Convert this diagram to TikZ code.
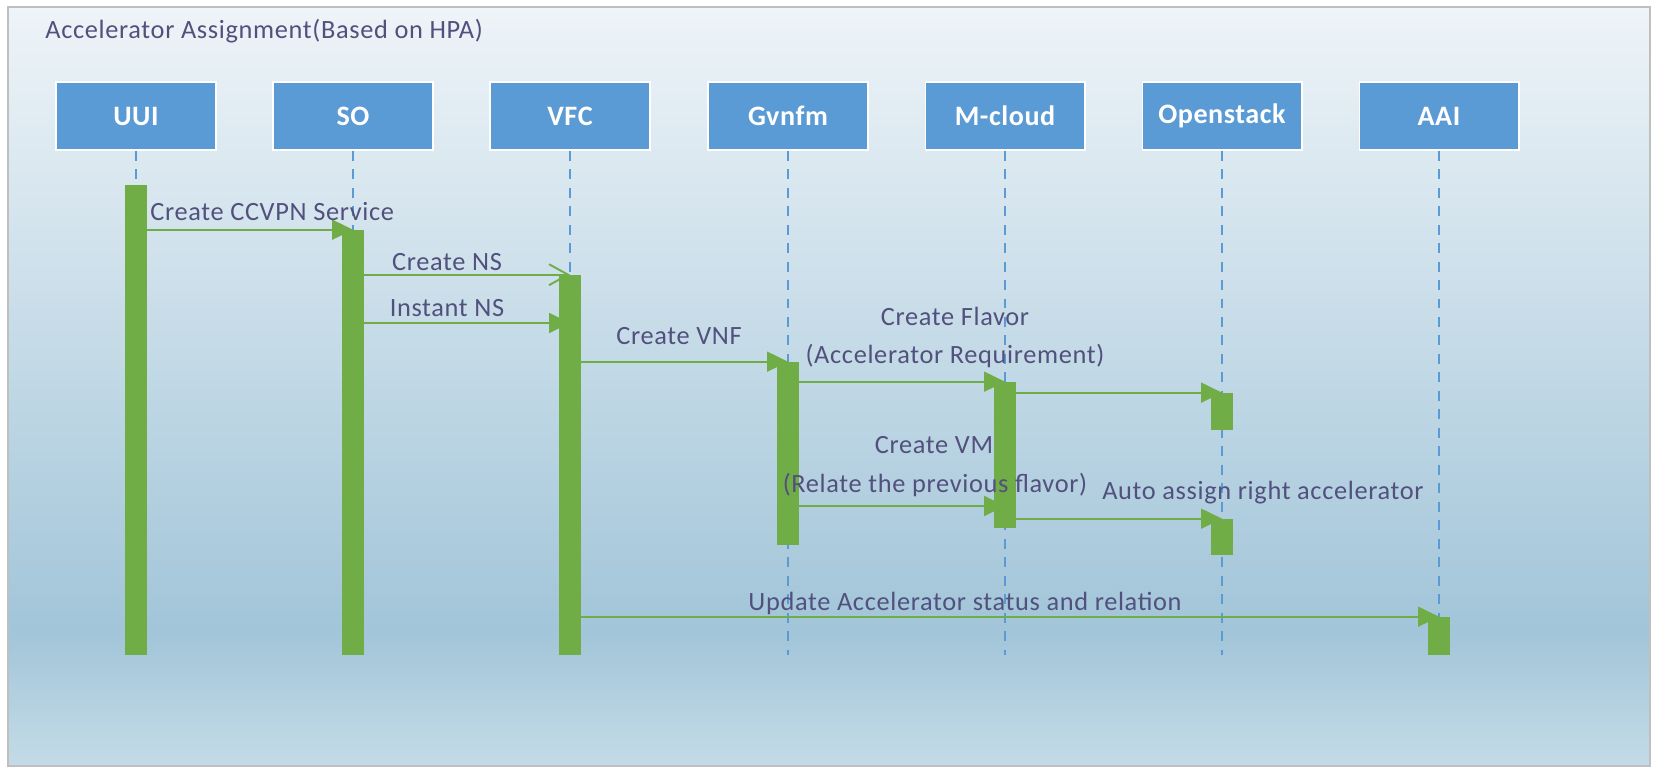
\documentclass[tikz,border=0pt]{standalone}
\usepackage{fontspec}
\setmainfont{Carlito}[LetterSpace=2.5]
\newfontfamily\headfont{Carlito}[LetterSpace=2]
\usepackage{tikz}
\usetikzlibrary{arrows.meta,calc}
\definecolor{bg_top}{RGB}{238, 244, 248}
\definecolor{bg_mid}{RGB}{162, 197, 217}
\definecolor{bg_bot}{RGB}{196, 219, 231}
\definecolor{box_blue}{RGB}{91, 155, 213}
\definecolor{act_green}{RGB}{112, 173, 71}
\definecolor{txt_dark}{RGB}{82, 80, 125}
\tikzstyle{head}=[rectangle,fill=box_blue,draw=white,line width=0.6pt,
  minimum width=3.2cm,minimum height=1.36cm,text=white,
  font=\headfont\fontsize{16}{18}\selectfont\bfseries]
\tikzstyle{life}=[draw=box_blue,line width=1pt,dash pattern=on 0.2cm off 0.17cm]
\tikzstyle{act}=[rectangle,fill=act_green,draw=none,inner sep=0pt,minimum width=0.43cm]
\tikzstyle{msg}=[draw=act_green,line width=1.1pt,-{Triangle[length=0.42cm,width=0.4cm]}]
\tikzstyle{msgopen}=[draw=act_green,line width=1.1pt,-{Straight Barb[length=0.38cm,width=0.42cm]}]
\tikzstyle{lbl}=[text=txt_dark,inner sep=0pt,anchor=base,font=\fontsize{15}{17}\selectfont]

\begin{document}
\begin{tikzpicture}[x=0.02cm,y=-0.02cm]
        \useasboundingbox (0,0) rectangle (1656,769);
        \fill [white] (0,0) rectangle (1656,769);
        \shade [top color=bg_top,bottom color=bg_mid] (8,7) rectangle (1650,630);
        \shade [top color=bg_mid,bottom color=bg_bot] (8,630) rectangle (1650,766);
        \draw [gray!50,line width=0.8pt] (8,7) rectangle (1650,766);
        \node [style=lbl,anchor=base west] (title) at (45,38) {Accelerator Assignment(Based on HPA)};
        % participants
        \node [style=head] (uui) at (136,116) {UUI};
        \node [style=head] (so) at (353,116) {SO};
        \node [style=head] (vfc) at (570,116) {VFC};
        \node [style=head] (gv) at (788,116) {Gvnfm};
        \node [style=head] (mc) at (1005,116) {M-cloud};
        \node [style=head] (os) at (1222,116) {Openstack};
        \node [style=head] (aai) at (1439,116) {AAI};
        \coordinate (end) at (0,655);
        \draw [style=life] (uui) -- (uui |- end);
        \draw [style=life] (so) -- (so |- end);
        \draw [style=life] (vfc) -- (vfc |- end);
        \draw [style=life] (gv) -- (gv |- end);
        \draw [style=life] (mc) -- (mc |- end);
        \draw [style=life] (os) -- (os |- end);
        \draw [style=life] (aai) -- (aai |- end);
        % activations
        \node [style=act,minimum height=9.4cm] (uui_a) at (136,420) {};
        \node [style=act,minimum height=8.5cm] (so_a) at (353,442.5) {};
        \node [style=act,minimum height=7.6cm] (vfc_a) at (570,465) {};
        \node [style=act,minimum height=3.66cm] (gv_a) at (788,453.5) {};
        \node [style=act,minimum height=2.92cm] (mc_a) at (1005,455) {};
        \node [style=act,minimum height=0.74cm] (os_a) at (1222,411.5) {};
        \node [style=act,minimum height=0.72cm] (os_b) at (1222,537) {};
        \node [style=act,minimum height=0.76cm] (aai_a) at (1439,636) {};
        % messages
        \coordinate (inst) at (0,323);
        \coordinate (vm) at (0,506);
        \draw [style=msg] (uui_a |- so_a.north) -- (so_a.north);
        \draw [style=msgopen] (so_a |- vfc_a.north) -- (vfc_a.north);
        \draw [style=msg] (so_a |- inst) -- (vfc_a |- inst);
        \draw [style=msg] (vfc_a |- gv_a.north) -- (gv_a.north);
        \draw [style=msg] (gv_a |- mc_a.north) -- (mc_a.north);
        \draw [style=msg] (mc_a |- os_a.north) -- (os_a.north);
        \draw [style=msg] (gv_a |- vm) -- (mc_a |- vm);
        \draw [style=msg] (mc_a |- os_b.north) -- (os_b.north);
        \draw [style=msg] (vfc_a |- aai_a.north) -- (aai_a.north);
        % labels
        \node [style=lbl,anchor=base west] (l_ccvpn) at (150,220) {Create CCVPN Service};
        \node [style=lbl] (l_cns) at (447,270) {Create NS};
        \node [style=lbl] (l_ins) at (447,316) {Instant NS};
        \node [style=lbl] (l_vnf) at (679,344) {Create VNF};
        \node [style=lbl] (l_flv) at (955,325) {Create Flavor};
        \node [style=lbl] (l_flv2) at (955,363) {(Accelerator Requirement)};
        \node [style=lbl] (l_vm) at (934,453) {Create VM};
        \node [style=lbl] (l_vm2) at (935,492) {(Relate the previous flavor)};
        \node [style=lbl] (l_auto) at (1263,499) {Auto assign right accelerator};
        \node [style=lbl] (l_upd) at (965,610) {Update Accelerator status and relation};
    \end{tikzpicture}
\end{document}
